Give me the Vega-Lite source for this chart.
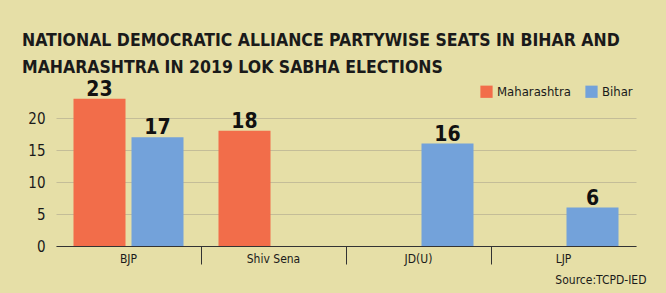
{
  "$schema": "https://vega.github.io/schema/vega-lite/v6.json",
  "width": 580,
  "height": 160,
  "autosize": {"type": "none"},
  "padding": {"left": 56, "top": 86, "right": 30, "bottom": 47},
  "background": "#E6DFA7",
  "title": {
    "text": ["NATIONAL DEMOCRATIC ALLIANCE PARTYWISE SEATS IN BIHAR AND", "MAHARASHTRA IN 2019 LOK SABHA ELECTIONS"],
    "anchor": "start",
    "frame": "group",
    "dx": -34,
    "offset": 2,
    "font": "'Liberation Sans Narrow', 'DejaVu Sans Condensed', 'Roboto Condensed', 'Open Sans Condensed', 'Noto Sans', sans-serif",
    "fontSize": 17.5,
    "fontWeight": "bold",
    "color": "#1a1a1a",
    "lineHeight": 27
  },
  "config": {
    "view": {"stroke": null},
    "font": "'Liberation Sans Narrow', 'DejaVu Sans Condensed', 'Roboto Condensed', 'Noto Sans', sans-serif"
  },
  "data": {
    "values": [
      {"party": "BJP", "state": "Maharashtra", "seats": 23},
      {"party": "BJP", "state": "Bihar", "seats": 17},
      {"party": "Shiv Sena", "state": "Maharashtra", "seats": 18},
      {"party": "JD(U)", "state": "Bihar", "seats": 16},
      {"party": "LJP", "state": "Bihar", "seats": 6}
    ]
  },
  "encoding": {
    "x": {
      "field": "party",
      "type": "nominal",
      "sort": ["BJP", "Shiv Sena", "JD(U)", "LJP"],
      "scale": {"paddingInner": 0, "paddingOuter": 0},
      "axis": {
        "title": "Source:TCPD-IED",
        "titleFontSize": 12,
        "titleFontWeight": "normal",
        "titleColor": "#1a1a1a",
        "titleAnchor": "end",
        "titleAlign": "right",
        "titleBaseline": "alphabetic",
        "titleX": 590,
        "titleY": 37,
        "labelAngle": 0,
        "labelFontSize": 12,
        "labelColor": "#1a1a1a",
        "bandPosition": 0,
        "labelBound": false,
        "tickSize": 18,
        "tickColor": "#333333",
        "tickOpacity": {"condition": {"test": "datum.value === 'BJP'", "value": 0}, "value": 1},
        "labelPadding": -11,
        "domainColor": "#333333",
        "domainWidth": 1.2,
        "grid": false
      }
    },
    "xOffset": {
      "field": "state",
      "type": "nominal",
      "scale": {"domain": ["Maharashtra", "Bihar"], "paddingInner": 0.1034, "paddingOuter": 0.3017}
    },
    "y": {
      "field": "seats",
      "type": "quantitative",
      "scale": {"domain": [0, 25]},
      "axis": {
        "title": null,
        "values": [0, 5, 10, 15, 20],
        "domain": false,
        "ticks": false,
        "labelFontSize": 15,
        "labelColor": "#1a1a1a",
        "labelPadding": 11,
        "gridColor": "#C4BD98",
        "gridWidth": 1
      }
    }
  },
  "layer": [
    {
      "mark": {"type": "bar"},
      "encoding": {
        "color": {
          "field": "state",
          "type": "nominal",
          "scale": {"domain": ["Maharashtra", "Bihar"], "range": ["#F26D4A", "#73A2DA"]},
          "legend": {
            "title": null,
            "orient": "none",
            "direction": "horizontal",
            "legendX": 424,
            "legendY": -1,
            "symbolType": "square",
            "symbolSize": 150,
            "symbolStrokeWidth": 0,
            "symbolOpacity": 1,
            "labelFontSize": 13,
            "labelColor": "#1a1a1a",
            "labelOffset": 4,
            "columnPadding": 14
          }
        }
      }
    },
    {
      "mark": {"type": "text", "baseline": "alphabetic", "dy": -3, "fontSize": 21, "fontWeight": "bold", "color": "#111111"},
      "encoding": {"text": {"field": "seats", "type": "quantitative"}}
    }
  ]
}
